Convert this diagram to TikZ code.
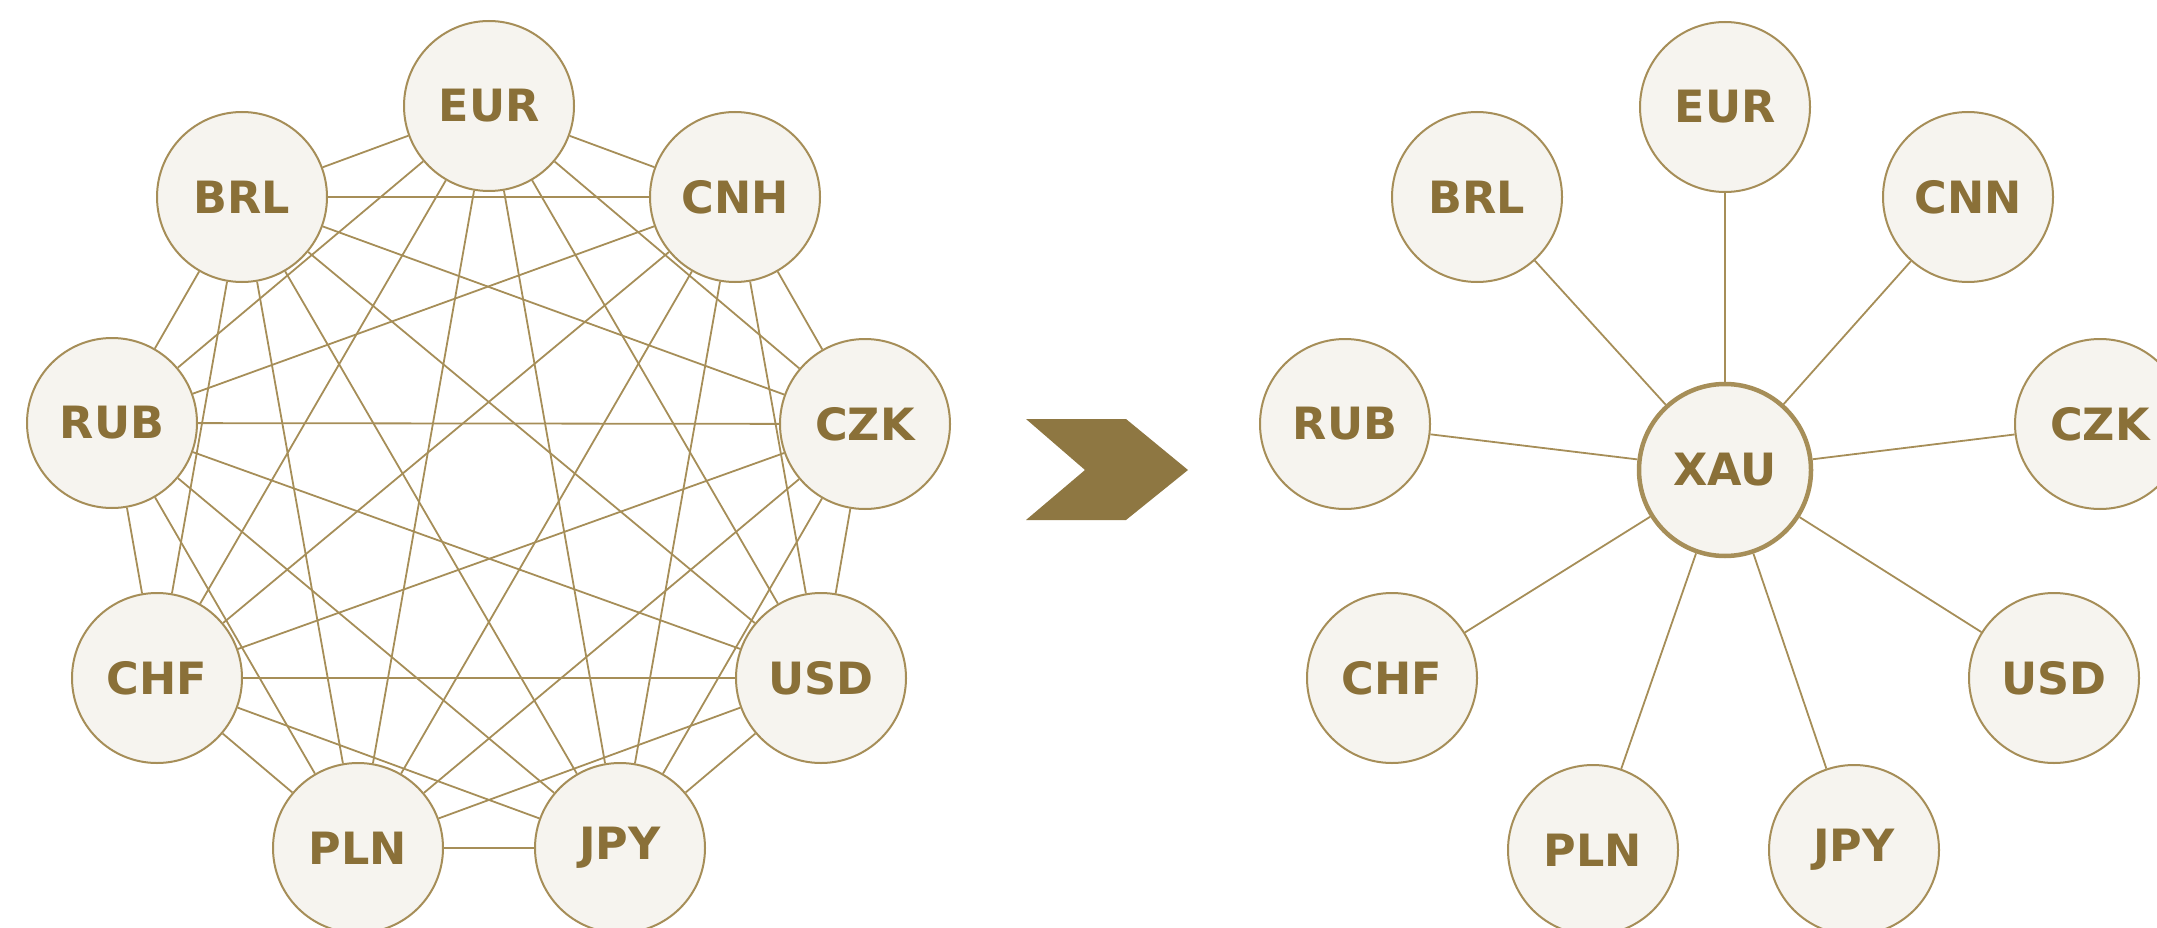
\documentclass[tikz,border=0pt]{standalone}
\usepackage{fontspec}
\setmainfont{DejaVu Sans}
\usetikzlibrary{backgrounds}
\definecolor{goldline}{HTML}{A68E58}
\definecolor{goldtext}{HTML}{8A7038}
\definecolor{goldarrow}{HTML}{8E7742}
\definecolor{cream}{HTML}{F6F4EF}
\tikzset{
  cur/.style={circle, draw=goldline, line width=2pt, fill=cream, minimum size=170pt, inner sep=0pt,
    text=goldtext, font=\fontsize{44.5}{44.5}\selectfont\bfseries},
  hub/.style={cur, line width=4.5pt, minimum size=172pt},
  link/.style={draw=goldline, line width=1.8pt},
}
\begin{document}
\begin{tikzpicture}[x=1pt,y=-1pt]
\useasboundingbox (0,0) rectangle (2157,928);
\clip (0,0) rectangle (2157,928);
% left graph
\node[cur] (L1) at (489,106) {EUR};
\node[cur] (L2) at (735,197) {CNH};
\node[cur] (L3) at (865,424) {CZK};
\node[cur] (L4) at (821,678) {USD};
\node[cur] (L5) at (620,848) {JPY};
\node[cur] (L6) at (358,848) {PLN};
\node[cur] (L7) at (157,678) {CHF};
\node[cur] (L8) at (112,423) {RUB};
\node[cur] (L9) at (242,197) {BRL};
\begin{scope}[on background layer]
\foreach \i in {1,...,8}{
  \pgfmathtruncatemacro{\s}{\i+1}
  \foreach \j in {\s,...,9}{
    \draw[link] (L\i) -- (L\j);
  }
}
\end{scope}
% chevron
\fill[goldarrow] (1026,419) -- (1126,419) -- (1188,470) -- (1126,520) -- (1026,520) -- (1085,470) -- cycle;
% right graph
\node[hub] (X) at (1725,470) {XAU};
\node[cur] (R1) at (1725,107) {EUR};
\node[cur] (R2) at (1968,197) {CNN};
\node[cur] (R3) at (2100,424) {CZK};
\node[cur] (R4) at (2054,678) {USD};
\node[cur] (R5) at (1854,850) {JPY};
\node[cur] (R6) at (1593,850) {PLN};
\node[cur] (R7) at (1392,678) {CHF};
\node[cur] (R8) at (1345,424) {RUB};
\node[cur] (R9) at (1477,197) {BRL};
\begin{scope}[on background layer]
\foreach \i in {1,...,9}{
  \draw[link] (X) -- (R\i);
}
\end{scope}
\end{tikzpicture}
\end{document}
